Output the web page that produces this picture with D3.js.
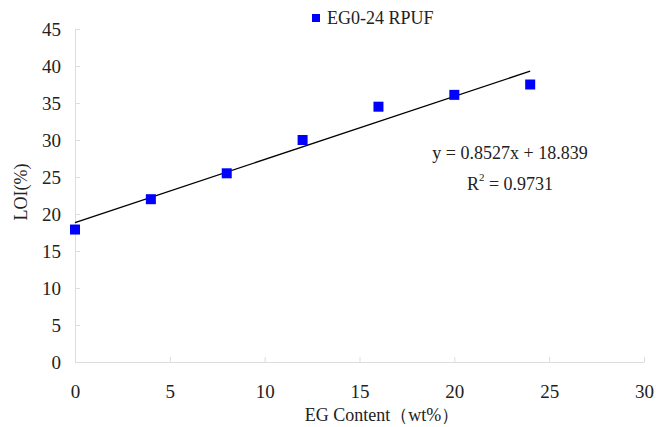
<!DOCTYPE html>
<html>
<head>
<meta charset="utf-8">
<script src="https://cdn.jsdelivr.net/npm/d3@7"></script>
<style>
  body { margin: 0; background: #fff; }
  text { font-family: "Liberation Serif", "Times New Roman", serif; fill: #222; }
</style>
</head>
<body>
<div id="chart"></div>
<script>
// data
let egContent = [0, 4, 8, 12, 16, 20, 24];
let loiValues = [17.9, 22.0, 25.5, 30.0, 34.5, 36.1, 37.5];
let xTicks = [0, 5, 10, 15, 20, 25, 30];
let yTicks = [0, 5, 10, 15, 20, 25, 30, 35, 40, 45];
let fitSlope = 0.8527;
let fitIntercept = 18.839;
let fitR2 = 0.9731;
let seriesName = 'EG0-24 RPUF';

let width = 656, height = 427;
let margin = { left: 75, right: 12, top: 29, bottom: 65 };
let fontFam = '"Liberation Serif", "Times New Roman", serif';

let svg = d3.select('#chart').append('svg')
    .attr('width', width)
    .attr('height', height);

let x = d3.scaleLinear()
    .domain([0, 30])
    .range([margin.left, width - margin.right]);

let y = d3.scaleLinear()
    .domain([0, 45])
    .range([height - margin.bottom, margin.top]);

// * AXES * //
let xAxis = svg.append('g')
    .attr('transform', 'translate(0,' + y(0) + ')')
    .call(d3.axisBottom(x).tickValues(xTicks).tickSizeInner(-5).tickSizeOuter(0).tickPadding(23));

let yAxis = svg.append('g')
    .attr('transform', 'translate(' + x(0) + ',0)')
    .call(d3.axisLeft(y).tickValues(yTicks).tickSizeInner(-5).tickSizeOuter(0).tickPadding(14));

[xAxis, yAxis].forEach((ax) => {
    ax.attr('font-family', fontFam).attr('font-size', 19);
    ax.select('.domain').attr('stroke', '#ddd');
    ax.selectAll('.tick line').attr('stroke', '#ddd');
    ax.selectAll('.tick text').attr('fill', '#222');
});

// > trend line < //
let xMin = d3.min(egContent), xMax = d3.max(egContent);
svg.append('line')
    .attr('x1', x(xMin))
    .attr('y1', y(fitSlope * xMin + fitIntercept))
    .attr('x2', x(xMax))
    .attr('y2', y(fitSlope * xMax + fitIntercept))
    .attr('stroke', '#000')
    .attr('stroke-width', 1.4);

// * POINTS * //
let sq = 10;
svg.selectAll('.pt')
    .data(egContent)
    .enter()
    .append('rect')
    .attr('class', 'pt')
    .attr('x', (d) => x(d) - sq / 2)
    .attr('y', (d, i) => y(loiValues[i]) - sq / 2)
    .attr('width', sq)
    .attr('height', sq)
    .attr('fill', '#0000ff');

// * LEGEND * //
svg.append('rect')
    .attr('x', 312)
    .attr('y', 14)
    .attr('width', 8)
    .attr('height', 8)
    .attr('fill', '#0000ff');
svg.append('text')
    .text(seriesName)
    .attr('x', 327)
    .attr('y', 24)
    .style('font-size', '18px');

// equation
svg.append('text')
    .text('y = ' + fitSlope + 'x + ' + fitIntercept)
    .attr('x', 510)
    .attr('y', 159)
    .attr('text-anchor', 'middle')
    .style('font-size', '18px');

let r2 = svg.append('text')
    .attr('x', 510)
    .attr('y', 190)
    .attr('text-anchor', 'middle')
    .style('font-size', '18px');
r2.append('tspan').text('R');
r2.append('tspan').text('2').attr('dy', -9).style('font-size', '11px');
r2.append('tspan').text(' = ' + fitR2).attr('dy', 9);

// axis titles
svg.append('text')
    .text('EG Content（wt%）')
    .attr('x', 382)
    .attr('y', 421)
    .attr('text-anchor', 'middle')
    .style('font-size', '18px');

svg.append('text')
    .text('LOI(%)')
    .attr('transform', 'translate(27,192) rotate(-90)')
    .attr('text-anchor', 'middle')
    .style('font-size', '18px');
</script>
</body>
</html>
